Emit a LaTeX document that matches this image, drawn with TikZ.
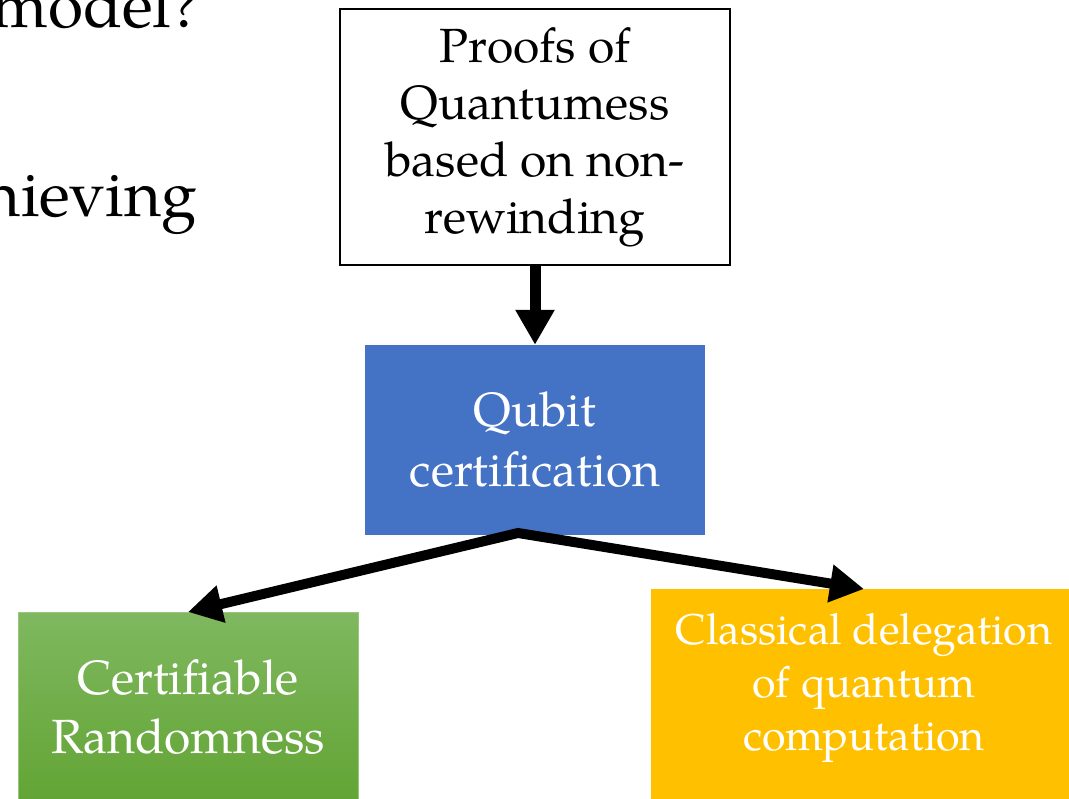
\documentclass[tikz,border=0pt]{standalone}
\usepackage{fontspec}
\setmainfont{texgyrepagella-regular.otf}
\usetikzlibrary{arrows.meta}
\definecolor{qblue}{HTML}{4472C4}
\definecolor{qorange}{HTML}{FFC000}
\definecolor{qgreenT}{HTML}{7FB85F}
\definecolor{qgreenB}{HTML}{62A434}
\tikzset{
  whitebox/.style={draw=black, line width=2pt, fill=white, minimum width=390pt, minimum height=256pt, align=center, inner sep=0pt, font=\fontsize{48}{57}\selectfont},
  bluebox/.style={fill=qblue, text=white, minimum width=340pt, minimum height=190pt, align=center, inner sep=0pt, font=\fontsize{48}{60}\selectfont},
  greenbox/.style={top color=qgreenT, bottom color=qgreenB, draw=qgreenT!80!white, line width=0.8pt, text=white, minimum width=340pt, minimum height=190pt, align=center, inner sep=0pt, font=\fontsize{48}{59}\selectfont},
  orangebox/.style={fill=qorange, text=white, minimum width=426pt, minimum height=198pt, align=center, inner sep=0pt, font=\fontsize{43}{53}\selectfont},
  arr/.style={line width=11pt, -{Triangle[width=37pt,length=35pt]}},
  biarr/.style={line width=10pt, line join=miter, {Triangle[width=36pt,length=34pt]}-{Triangle[width=36pt,length=34pt]}},
  bigtext/.style={font=\fontsize{64}{70}\selectfont, inner sep=0pt, anchor=base east}
}
\begin{document}
\begin{tikzpicture}[x=1pt,y=-1pt]
\useasboundingbox (0,0) rectangle (1069,799);
\clip (0,0) rectangle (1069,799);
\node[bigtext] (t1) at (200,28) {model?};
\node[bigtext] (t2) at (197,217) {achieving};
\node[whitebox] (proofs) at (535,137) {Proofs of\\Quantumess\\based on non-\\rewinding};
\node[bluebox] (qubit) at (535,440) {Qubit\\certification};
\node[greenbox, anchor=north] (cr) at (188,612) {Certifiable\\Randomness};
\node[orangebox, anchor=north] (cd) at (864,589) {Classical delegation\\of quantum\\computation};
\fill[qorange] ([yshift=0.5pt]cd.south west) rectangle ([yshift=-40pt]cd.south east);
\coordinate (split) at (518,533);
\draw[arr] (proofs.south) -- (qubit.north);
\draw[biarr] (cr.north) -- (split) -- (cd.north);
\end{tikzpicture}
\end{document}
